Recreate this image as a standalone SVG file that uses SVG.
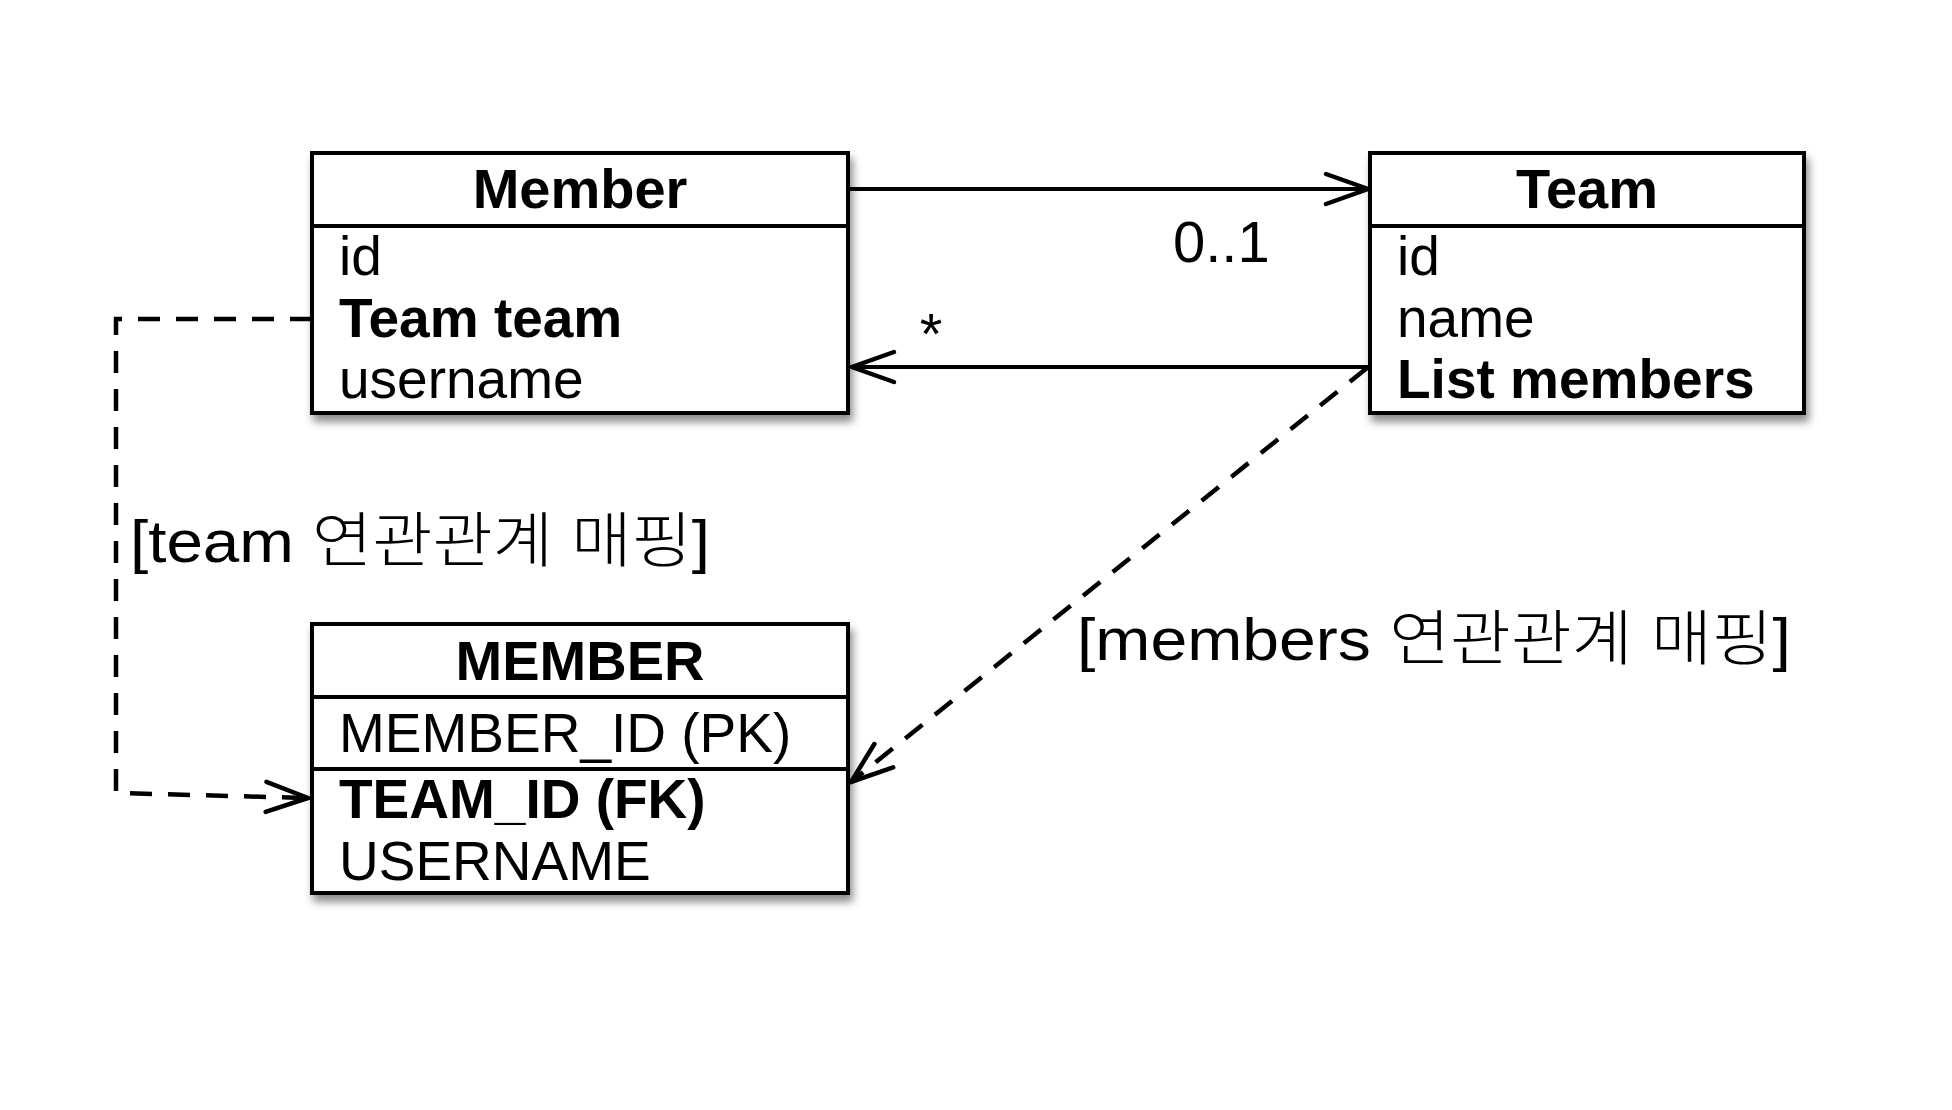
<svg xmlns="http://www.w3.org/2000/svg" width="1952" height="1110" viewBox="0 0 1952 1110">
<defs>
<style>
.box{fill:#fff;stroke:#000;stroke-width:4}
.div{stroke:#000;stroke-width:4}
.hd{font-family:"Liberation Sans",Arial,sans-serif;font-weight:bold;font-size:56px;fill:#000;text-anchor:middle}
.tx{font-family:"Liberation Sans",Arial,sans-serif;font-size:55px;fill:#000}
.bd{font-family:"Liberation Sans",Arial,sans-serif;font-weight:bold;font-size:55px;fill:#000}
.mult{font-family:"Liberation Sans",Arial,sans-serif;font-size:58px;fill:#000}
.lbl{font-family:"Liberation Sans","Noto Sans CJK KR",sans-serif;font-size:60px;font-weight:300;fill:#000}
.ln{fill:none;stroke:#000;stroke-width:4}
.dash{fill:none;stroke:#000;stroke-width:4.5;stroke-dasharray:22 16}
</style>
<filter id="shadow" x="-5%" y="-5%" width="115%" height="125%">
<feDropShadow dx="3" dy="7" stdDeviation="4" flood-color="#000" flood-opacity="0.45"/>
</filter>
<marker id="open" markerUnits="userSpaceOnUse" markerWidth="60" markerHeight="40" viewBox="-50 -20 60 40" refX="0" refY="0" orient="auto" overflow="visible">
<path d="M-42,-15 L0,0 L-42,15" fill="none" stroke="#000" stroke-width="4.5" stroke-dasharray="none" stroke-linecap="round"/>
</marker>
</defs>
<rect width="1952" height="1110" fill="#fff"/>

<g id="connectors">
<path class="ln" d="M848,189 H1368" marker-end="url(#open)"/>
<path class="ln" d="M1370,367 H852" marker-end="url(#open)"/>
<path class="dash" d="M312,319 H116 V793 L308,798" marker-end="url(#open)"/>
<path class="dash" d="M1367,368 L851,782" marker-end="url(#open)"/>
<text class="mult" x="1173" y="262">0..1</text>
<text class="mult" x="931" y="354" text-anchor="middle">*</text>
<text class="lbl" x="130" y="562" textLength="580" lengthAdjust="spacingAndGlyphs">[team 연관관계 매핑]</text>
<text class="lbl" x="1077" y="660" textLength="714" lengthAdjust="spacingAndGlyphs">[members 연관관계 매핑]</text>
</g>

<g id="Member">
<rect class="box" x="312" y="153" width="536" height="260" filter="url(#shadow)"/>
<line class="div" x1="312" y1="226" x2="848" y2="226"/>
<text class="hd" x="580" y="208">Member</text>
<text class="tx" x="339" y="275">id</text>
<text class="bd" x="339" y="337">Team team</text>
<text class="tx" x="339" y="398">username</text>
</g>

<g id="Team">
<rect class="box" x="1370" y="153" width="434" height="260" filter="url(#shadow)"/>
<line class="div" x1="1370" y1="226" x2="1804" y2="226"/>
<text class="hd" x="1587" y="208">Team</text>
<text class="tx" x="1397" y="275">id</text>
<text class="tx" x="1397" y="337">name</text>
<text class="bd" x="1397" y="398">List members</text>
</g>

<g id="MEMBER">
<rect class="box" x="312" y="624" width="536" height="269" filter="url(#shadow)"/>
<line class="div" x1="312" y1="697" x2="848" y2="697"/>
<line class="div" x1="312" y1="769" x2="848" y2="769"/>
<text class="hd" x="580" y="680">MEMBER</text>
<text class="tx" x="339" y="752">MEMBER_ID (PK)</text>
<text class="bd" x="339" y="818">TEAM_ID (FK)</text>
<text class="tx" x="339" y="880">USERNAME</text>
</g>
</svg>
